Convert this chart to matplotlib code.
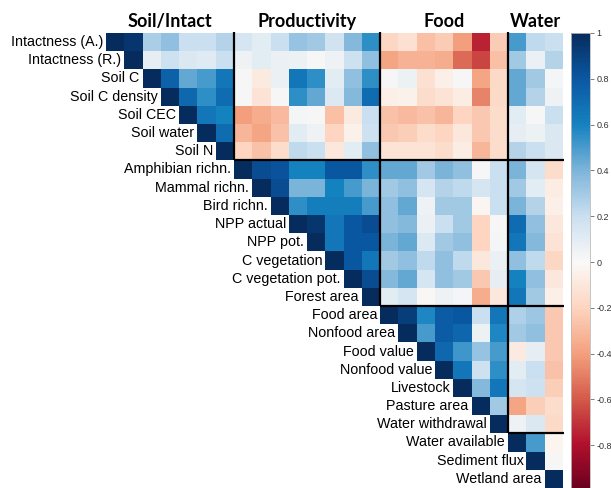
import numpy as np
import matplotlib
matplotlib.use("Agg")
import matplotlib.pyplot as plt
from matplotlib.colors import LinearSegmentedColormap

# ---- variables (diagonal order) and block structure ----
labels = ["Intactness (A.)", "Intactness (R.)", "Soil C", "Soil C density",
          "Soil CEC", "Soil water", "Soil N",
          "Amphibian richn.", "Mammal richn.", "Bird richn.", "NPP actual",
          "NPP pot.", "C vegetation", "C vegetation pot.", "Forest area",
          "Food area", "Nonfood area", "Food value", "Nonfood value",
          "Livestock", "Pasture area", "Water withdrawal",
          "Water available", "Sediment flux", "Wetland area"]
groups = ["Soil/Intact", "Productivity", "Food", "Water"]
group_sizes = [7, 8, 7, 3]

# upper triangle: each row lists r(i, j) for j > i
soil_rows = [
    [0.95, 0.28, 0.35, 0.2, 0.2, 0.25,
     0.15, 0.1, 0.2, 0.33, 0.3, 0.17, 0.38, 0.55,
     -0.18, -0.13, -0.28, -0.23, -0.4, -0.75, -0.23,
     0.5, 0.22, 0.2],
    [0.08, 0.18, 0.13, 0.11, 0.2,
     0.05, 0.1, 0.07, 0.06, 0.02, 0.05, 0.18, 0.35,
     -0.38, -0.33, -0.33, -0.35, -0.55, -0.65, -0.28,
     0.3, 0.07, 0.25],
    [0.75, 0.45, 0.5, 0.65,
     0.02, -0.08, 0.07, 0.65, 0.55, 0.1, 0.35, 0.55,
     0.02, 0.06, -0.13, -0.05, 0.02, -0.38, -0.17,
     0.45, 0.3, 0.03],
    [0.72, 0.55, 0.7,
     0.02, -0.12, 0.02, 0.55, 0.45, 0.12, 0.38, 0.7,
     -0.05, -0.04, -0.15, -0.12, -0.07, -0.48, -0.17,
     0.45, 0.25, 0.05],
    [0.65, 0.6,
     -0.4, -0.35, -0.3, 0.03, 0.02, -0.28, -0.08, 0.2,
     -0.27, -0.3, -0.27, -0.32, -0.2, -0.25, -0.15,
     0.1, 0.02, 0.2],
    [0.7,
     -0.32, -0.38, -0.27, 0.1, 0.05, -0.2, -0.04, 0.18,
     -0.25, -0.22, -0.15, -0.2, -0.1, -0.25, -0.15,
     0.08, 0.06, 0.13],
    [-0.2, -0.27, -0.15, 0.22, 0.2, -0.1, 0.1, 0.35,
     -0.12, -0.12, -0.12, -0.15, -0.07, -0.32, -0.15,
     0.25, 0.2, 0.13],
]
prod_rows = [
    [0.85, 0.82, 0.6, 0.6, 0.8, 0.8, 0.55,
     0.45, 0.45, 0.3, 0.4, 0.35, 0.02, 0.2,
     0.4, 0.15, -0.15],
    [0.85, 0.4, 0.4, 0.6, 0.5, 0.4,
     0.3, 0.35, 0.15, 0.25, 0.22, 0.15, 0.2,
     0.3, 0.1, -0.07],
    [0.55, 0.62, 0.62, 0.62, 0.5,
     0.35, 0.45, 0.05, 0.3, 0.3, -0.02, 0.2,
     0.4, 0.25, -0.05],
    [0.95, 0.65, 0.8, 0.85,
     0.35, 0.38, 0.07, 0.2, 0.3, -0.2, 0.02,
     0.7, 0.35, -0.1],
    [0.65, 0.8, 0.8,
     0.4, 0.45, 0.12, 0.3, 0.35, -0.2, 0.03,
     0.65, 0.38, -0.12],
    [0.8, 0.65,
     0.3, 0.35, 0.22, 0.35, 0.22, -0.1, 0.07,
     0.35, 0.22, -0.18],
    [0.85,
     0.38, 0.45, 0.15, 0.35, 0.3, -0.25, 0.08,
     0.6, 0.35, -0.1],
    [0.1, 0.15, 0.01, 0.05, 0.03, -0.35, -0.1,
     0.65, 0.3, -0.05],
]
food_rows = [
    [0.92, 0.58, 0.78, 0.8, 0.2, 0.65, 0.27, 0.32, -0.25],
    [0.5, 0.78, 0.73, 0.06, 0.58, 0.3, 0.35, -0.25],
    [0.72, 0.52, 0.33, 0.5, -0.08, 0.08, -0.25],
    [0.65, 0.18, 0.55, 0.1, 0.2, -0.27],
    [0.38, 0.65, 0.15, 0.18, -0.22],
    [0.3, -0.38, -0.22, -0.15],
    [0.05, 0.13, -0.17],
]
water_rows = [
    [0.5, -0.03],
    [0.02],
    [],
]

cbar_ticks = [1, 0.8, 0.6, 0.4, 0.2, 0, -0.2, -0.4, -0.6, -0.8, -1]

# ---- assemble the full matrix (lower triangle left blank) ----
rows = soil_rows + prod_rows + food_rows + water_rows
n = len(labels)
M = np.full((n, n), np.nan)
for i, r in enumerate(rows):
    M[i, i] = 1.0
    M[i, i + 1:] = r

cmap = LinearSegmentedColormap.from_list("rdbu_corr", [
    (0.0, "#67001f"), (0.1, "#b0102c"), (0.2, "#d45a4a"), (0.3, "#f4a07e"),
    (0.4, "#fdd5c0"), (0.5, "#fbf9f7"), (0.6, "#cadff0"), (0.7, "#7db5da"),
    (0.8, "#1682c0"), (0.9, "#0b58a3"), (1.0, "#062c5e")], N=256)

W, H = 611, 488
fig = plt.figure(figsize=(W / 100, H / 100), dpi=100)
x0, x1, y0, y1 = 106, 563, 33, 488
ax = fig.add_axes([x0 / W, 1 - y1 / H, (x1 - x0) / W, (y1 - y0) / H])
im = ax.imshow(M, cmap=cmap, vmin=-1, vmax=1, interpolation="nearest", aspect="auto")
ax.set_xlim(-0.5, n - 0.5); ax.set_ylim(n - 0.5, -0.5)
ax.axis("off")

# diagonal labels, right-aligned just left of each diagonal cell
for i, lab in enumerate(labels):
    ax.text(i - 0.66, i, lab, ha="right", va="center", fontsize=10.3,
            family="Liberation Sans", color="black")

# block outlines and block titles
starts = np.cumsum([0] + group_sizes)
for b in starts[1:-1]:
    e = b - 0.5
    ax.plot([e, e], [-0.55, e], color="black", lw=1.6, clip_on=False, solid_capstyle="butt")
    ax.plot([e, n - 0.45], [e, e], color="black", lw=1.6, clip_on=False, solid_capstyle="butt")
for g, a, b in zip(groups, starts[:-1], starts[1:]):
    ax.text((a + b - 1) / 2, -1.15, g, ha="center", va="center", fontsize=13,
            fontweight="bold", family="Lato")

# colour bar
cax = fig.add_axes([571 / W, 1 - 491 / H, 19 / W, 458 / H])
cb = fig.colorbar(im, cax=cax, ticks=cbar_ticks)
cb.ax.set_yticklabels([f"{t:g}" for t in cbar_ticks], fontsize=6.5,
                      family="Liberation Sans", color="#333333")
cb.ax.tick_params(length=3, width=0.6, color="#666666", pad=1.5)
cb.outline.set_edgecolor("#bbbbbb"); cb.outline.set_linewidth(0.6)

fig.savefig("out.png", dpi=100)
